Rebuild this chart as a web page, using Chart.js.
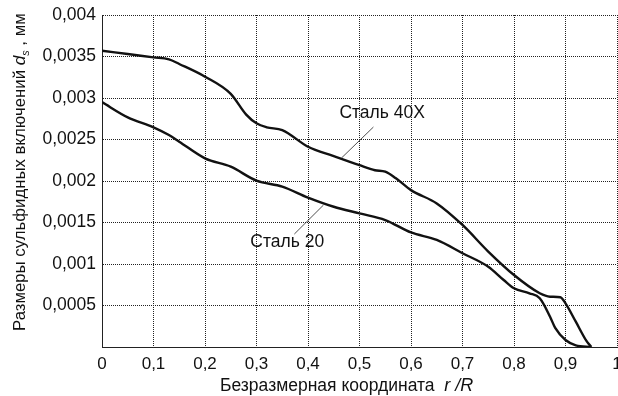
<!DOCTYPE html>
<html>
<head>
<meta charset="utf-8">
<script src="https://cdn.jsdelivr.net/npm/chart.js@4"></script>
<style>
  html, body { margin: 0; padding: 0; background: #fff; }
  #wrap { width: 618px; height: 396px; }
</style>
</head>
<body>
<div id="wrap"><canvas id="chart" width="618" height="396"></canvas></div>
<script>
const xTicks = [0, 0.1, 0.2, 0.3, 0.4, 0.5, 0.6, 0.7, 0.8, 0.9, 1];
const yTicks = [0.0005, 0.001, 0.0015, 0.002, 0.0025, 0.003, 0.0035, 0.004];

// Сталь 40X
const steel40xR = [0, 0.05, 0.1, 0.13, 0.15, 0.2, 0.25, 0.28, 0.3, 0.32, 0.35, 0.4, 0.45, 0.5, 0.53, 0.55, 0.57, 0.6, 0.65, 0.7, 0.75, 0.8, 0.85, 0.87, 0.89, 0.9, 0.92, 0.94, 0.95];
const steel40xD = [0.00357, 0.00353, 0.00349, 0.003466, 0.00341, 0.003257, 0.00305, 0.0028, 0.002695, 0.002647, 0.002614, 0.002413, 0.0023, 0.00219, 0.00213, 0.002112, 0.002036, 0.00189, 0.00173, 0.00147, 0.00115, 0.000867, 0.000647, 0.000606, 0.0006, 0.000526, 0.000305, 0.00008, 0];

// Сталь 20
const steel20R = [0, 0.05, 0.1, 0.13, 0.15, 0.2, 0.25, 0.3, 0.35, 0.4, 0.45, 0.5, 0.55, 0.6, 0.65, 0.7, 0.75, 0.78, 0.8, 0.83, 0.85, 0.87, 0.88, 0.9, 0.92, 0.95];
const steel20D = [0.00295, 0.002767, 0.002647, 0.002554, 0.002474, 0.002273, 0.002172, 0.002004, 0.001932, 0.0018, 0.00169, 0.00161, 0.00153, 0.00138, 0.00129, 0.00113, 0.000967, 0.000807, 0.000707, 0.000647, 0.000587, 0.000365, 0.00023, 0.000084, 0.00002, 0];

// callouts: [text, textX, textY, lineX1, lineY1, lineX2, lineY2] in data units
const callouts = [
  ['Сталь 40X', 0.461, 0.00282, 0.527, 0.00265, 0.465, 0.002277],
  ['Сталь 20', 0.288, 0.001257, 0.3735, 0.001361, 0.43, 0.00171]
];

const FONT = '"Liberation Sans", Arial, sans-serif';

function toPoints(xs, ys) {
  return xs.map((x, i) => ({ x: x, y: ys[i] }));
}

function comma(v, digits) {
  return Number(v.toFixed(digits)).toString().replace('.', ',');
}

const textPlugin = {
  id: 'texts',
  afterDraw(chart) {
    const ctx = chart.ctx;
    const xs = chart.scales.x;
    const ys = chart.scales.y;
    ctx.save();
    ctx.fillStyle = '#111';

    // callouts
    callouts.forEach(c => {
      ctx.font = '17.5px ' + FONT;
      ctx.textAlign = 'left';
      ctx.textBaseline = 'middle';
      ctx.fillText(c[0], xs.getPixelForValue(c[1]), ys.getPixelForValue(c[2]));
      ctx.strokeStyle = '#222';
      ctx.lineWidth = 0.8;
      ctx.beginPath();
      ctx.moveTo(xs.getPixelForValue(c[3]), ys.getPixelForValue(c[4]));
      ctx.lineTo(xs.getPixelForValue(c[5]), ys.getPixelForValue(c[6]));
      ctx.stroke();
    });

    // x title
    ctx.textBaseline = 'alphabetic';
    ctx.textAlign = 'left';
    const p1 = 'Безразмерная координата  ';
    ctx.font = '17.5px ' + FONT;
    let x = 220;
    const yBase = 391;
    ctx.fillText(p1, x, yBase);
    x += ctx.measureText(p1).width;
    ctx.font = 'italic 18px ' + FONT;
    ctx.fillText('r /R', x, yBase);

    // y title, rotated, sized to run from y=331 up to y=13
    const parts = [
      ['Размеры сульфидных включений ', '', 1, 0],
      ['d', 'italic ', 1.03, 0],
      ['s', 'italic ', 0.65, 0.22],
      [' , мм', '', 1, 0]
    ];
    const measure = size => parts.reduce((w, p) => {
      ctx.font = p[1] + (size * p[2]) + 'px ' + FONT;
      return w + ctx.measureText(p[0]).width;
    }, 0);
    const size = 17 * 318 / measure(17);
    ctx.translate(25, 331);
    ctx.rotate(-Math.PI / 2);
    let t = 0;
    parts.forEach(p => {
      ctx.font = p[1] + (size * p[2]) + 'px ' + FONT;
      ctx.fillText(p[0], t, size * p[3]);
      t += ctx.measureText(p[0]).width;
    });
    ctx.restore();
  }
};

const lineStyle = {
  borderColor: '#111',
  borderWidth: 2.4,
  pointRadius: 0,
  showLine: true,
  fill: false,
  cubicInterpolationMode: 'monotone'
};

new Chart(document.getElementById('chart'), {
  type: 'scatter',
  data: {
    datasets: [
      Object.assign({ label: 'Сталь 40X', data: toPoints(steel40xR, steel40xD) }, lineStyle),
      Object.assign({ label: 'Сталь 20', data: toPoints(steel20R, steel20D) }, lineStyle)
    ]
  },
  options: {
    responsive: false,
    animation: false,
    layout: { padding: { top: 15, right: 1, left: 0, bottom: 0 } },
    plugins: {
      legend: { display: false },
      tooltip: { enabled: false }
    },
    scales: {
      x: {
        type: 'linear',
        min: 0,
        max: 1,
        afterBuildTicks: axis => { axis.ticks = xTicks.map(v => ({ value: v })); },
        afterFit: axis => { axis.height = 49; axis.paddingRight = 0; axis.paddingLeft = 0; },
        grid: { color: '#222', lineWidth: 1, drawTicks: false },
        border: { color: '#222', dash: [1, 1] },
        ticks: {
          color: '#111',
          font: { family: FONT, size: 17 },
          padding: 7,
          maxRotation: 0,
          autoSkip: false,
          callback: v => comma(v, 2)
        }
      },
      y: {
        type: 'linear',
        min: 0,
        max: 0.004,
        afterBuildTicks: axis => { axis.ticks = [0].concat(yTicks).map(v => ({ value: v })); },
        afterFit: axis => { axis.width = 102; axis.paddingTop = 0; axis.paddingBottom = 0; },
        grid: { color: '#222', lineWidth: 1, drawTicks: false },
        border: { color: '#222', dash: [1, 1] },
        ticks: {
          color: '#111',
          font: { family: FONT, size: 17.5 },
          padding: 6,
          autoSkip: false,
          callback: v => (v === 0 ? '' : comma(v, 4))
        }
      }
    }
  },
  plugins: [textPlugin]
});
</script>
</body>
</html>
